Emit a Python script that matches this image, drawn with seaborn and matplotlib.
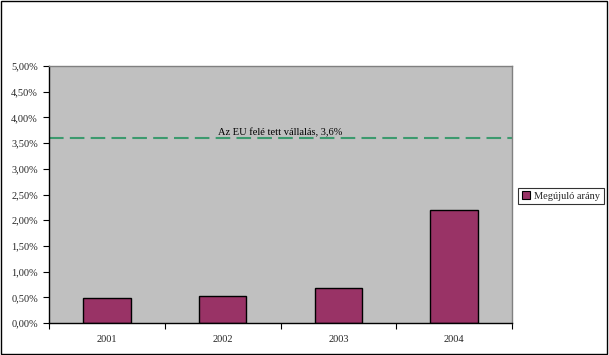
import matplotlib
matplotlib.use("Agg")
import matplotlib.pyplot as plt
import matplotlib.patches as mpatches
from matplotlib.ticker import FuncFormatter, FixedLocator
import seaborn as sns
import pandas as pd

years = ["2001", "2002", "2003", "2004"]
values = [0.49, 0.53, 0.68, 2.19]
target_value = 3.6
target_label = "Az EU felé tett vállalás, 3,6%"
series_name = "Megújuló arány"
y_ticks = [0, 0.5, 1.0, 1.5, 2.0, 2.5, 3.0, 3.5, 4.0, 4.5, 5.0]

sns.set_style("white")
plt.rcParams['font.family'] = ['Liberation Serif', 'DejaVu Serif']
FS = 7.5

df = pd.DataFrame({"year": years, "value": values})

fig = plt.figure(figsize=(6.09, 3.55), dpi=100)
W, H = 609, 355
ax = fig.add_axes([49 / W, (H - 323) / H, 463 / W, 257 / H])
ax.set_facecolor("#C0C0C0")

sns.barplot(data=df, x="year", y="value", color="#993366", width=0.41,
            edgecolor="black", linewidth=1.0, saturation=1, ax=ax)

ax.axhline(target_value, color="#3C9A6E", linestyle=(0, (7, 3)), linewidth=1.5)
ax.text(1.5, target_value + 0.02, target_label, ha="center", va="bottom",
        fontsize=FS, color="black")

ax.set_ylim(0, 5.0)
ax.set_xlim(-0.5, 3.5)
ax.yaxis.set_major_locator(FixedLocator(y_ticks))
ax.yaxis.set_major_formatter(FuncFormatter(lambda v, p: f"{v:.2f}".replace(".", ",") + "%"))
ax.xaxis.set_minor_locator(FixedLocator([-0.5, 0.5, 1.5, 2.5, 3.5]))
ax.tick_params(axis="x", which="major", length=0, pad=9, labelsize=FS)
ax.tick_params(axis="x", which="minor", length=4, width=0.8, direction="out", bottom=True, color="black")
ax.tick_params(axis="y", which="major", length=4, width=0.8, direction="out", left=True, pad=4,
               labelsize=FS, color="black")
ax.set_xlabel("")
ax.set_ylabel("")

for s in ["left", "bottom"]:
    ax.spines[s].set_color("black")
    ax.spines[s].set_linewidth(1.0)
for s in ["top", "right"]:
    ax.spines[s].set_color("#808080")
    ax.spines[s].set_linewidth(1.0)

handle = mpatches.Patch(facecolor="#993366", edgecolor="black", linewidth=0.8, label=series_name)
leg = fig.legend(handles=[handle], loc="center left", bbox_to_anchor=(518 / W, 1 - 196 / H),
                 fontsize=FS, frameon=True, fancybox=False, handlelength=0.8, handleheight=0.8,
                 handletextpad=0.4, borderpad=0.35, borderaxespad=0)
leg.get_frame().set_edgecolor("black")
leg.get_frame().set_linewidth(0.8)

border = mpatches.Rectangle((0.002, 0.003), 0.995, 0.994, transform=fig.transFigure,
                            fill=False, edgecolor="black", linewidth=1.0)
fig.patches.append(border)

fig.savefig("out.png", dpi=100)
